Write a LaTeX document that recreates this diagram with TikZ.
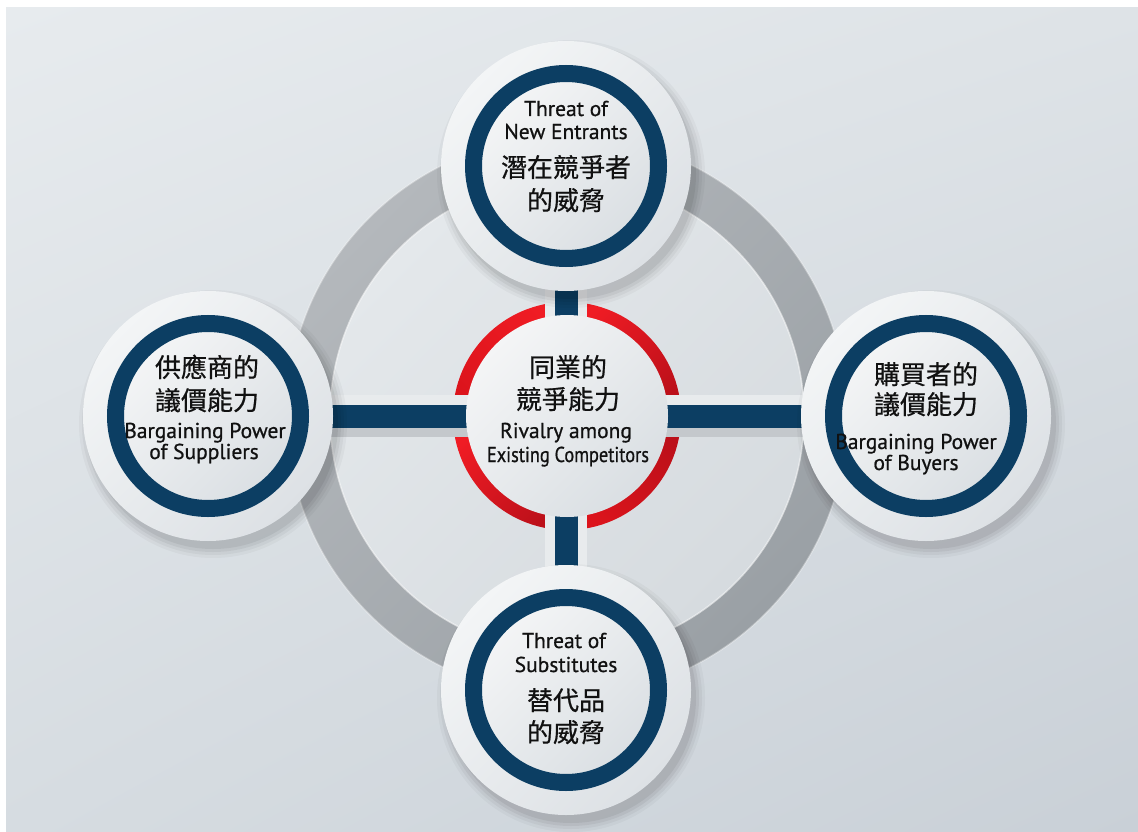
\documentclass[tikz,border=0pt]{standalone}
\usepackage{fontspec}
\usetikzlibrary{shadings}
\setmainfont{PT Sans}
\newfontfamily\enf[FakeBold=0.8]{PT Sans}
\newfontfamily\cjk[FakeBold=0.6]{Noto Sans CJK TC}
\definecolor{navy}{HTML}{0C3E63}
\definecolor{bgA}{HTML}{E7EBEE}
\definecolor{bgB}{HTML}{C9D0D7}
\definecolor{bgC}{HTML}{DEE3E7}
\definecolor{bgD}{HTML}{D6DCE1}
\definecolor{ringA}{HTML}{B4B8BC}
\definecolor{ringB}{HTML}{9AA0A5}
\definecolor{innerA}{HTML}{E4E8EB}
\definecolor{innerB}{HTML}{D6DBDF}
\definecolor{redA}{HTML}{F01C24}
\definecolor{redM}{HTML}{DC141C}
\definecolor{redB}{HTML}{BC101A}
\definecolor{discA}{HTML}{F4F5F6}
\definecolor{discB}{HTML}{DADFE3}
\definecolor{haloA}{HTML}{F3F5F6}
\definecolor{haloB}{HTML}{DDE1E5}
\definecolor{envA}{HTML}{E8EBED}
\definecolor{envB}{HTML}{C4C8CC}
\definecolor{txt}{HTML}{111111}
\begin{document}
\begin{tikzpicture}[x=1pt,y=-1pt,
  en/.style={font=\enf\fontsize{21.5}{21.5}\selectfont, text=txt, inner sep=0pt, anchor=base},
  zh/.style={font=\cjk\fontsize{26}{26}\selectfont, text=txt, inner sep=0pt, anchor=base},
  halo/.style={circle, minimum size=250pt, inner sep=0pt, top color=haloA, bottom color=haloB, shading angle=45},
  satring/.style={circle, minimum size=185pt, inner sep=0pt, draw=navy, line width=17pt, top color=discA, bottom color=discB, shading angle=45},
  centerdisc/.style={circle, minimum size=202pt, inner sep=0pt, top color=discA, bottom color=discB, shading angle=45},
  barenv/.style={draw=envA, line width=42pt},
  barlow/.style={draw=envB, line width=9pt},
  barcore/.style={draw=navy, line width=23pt}
]
\useasboundingbox (0,0) rectangle (1138,832);
\fill[white] (0,0) rectangle (1138,832);
\shade[upper left=bgA, upper right=bgC, lower left=bgD, lower right=bgB] (6,8) rectangle (1138,832);

\coordinate (cC) at (567,416);
\coordinate (cT) at (566,166);
\coordinate (cB) at (566,690);
\coordinate (cL) at (208,416);
\coordinate (cR) at (926,416);

% big ring
\shade[top color=innerA, bottom color=innerB, shading angle=45] (cC) circle[radius=237pt];
\shade[even odd rule, top color=ringA, bottom color=ringB, shading angle=45] (cC) circle[radius=280pt] (cC) circle[radius=237pt];
\draw[white, opacity=0.55, line width=1.5pt] (cC) circle[radius=237pt];
\draw[white, opacity=0.35, line width=1.5pt] (cC) circle[radius=280pt];

% red ring, four shaded quadrants
\shade[top color=redA, bottom color=redM, shading angle=-45] (cC) -- ([shift={(90:114pt)}]cC) arc[start angle=90, end angle=180, radius=114pt] -- cycle;
\shade[top color=redA, bottom color=redB, shading angle=45] (cC) -- ([shift={(0:114pt)}]cC) arc[start angle=0, end angle=90, radius=114pt] -- cycle;
\shade[top color=redM, bottom color=redB, shading angle=135] (cC) -- ([shift={(270:114pt)}]cC) arc[start angle=270, end angle=360, radius=114pt] -- cycle;
\shade[top color=redA, bottom color=redB, shading angle=45] (cC) -- ([shift={(180:114pt)}]cC) arc[start angle=180, end angle=270, radius=114pt] -- cycle;

% bars
\draw[barenv] (cL) -- (cR);
\draw[barlow, transform canvas={yshift=-16pt}] (cL) -- (cR);
\draw[barcore] (cL) -- (cR);
\draw[barenv] (cT) -- (cB);
\draw[barcore] (cT) -- (cB);

% centre disc
\node[centerdisc] (centre) at (cC) {};

% satellite shadows
\foreach \p in {cT,cL,cR,cB}{
  \foreach \d/\o in {9/0.03,6/0.04,3/0.05,0/0.06}{
    \fill[black, opacity=\o] ([shift={(5,8)}]\p) circle[radius=125pt+\d pt];
  }
}
% satellites
\node[halo] (hT) at (cT) {};
\node[halo] (hL) at (cL) {};
\node[halo] (hR) at (cR) {};
\node[halo] (hB) at (cB) {};
\node[satring] (sT) at (cT) {};
\node[satring] (sL) at (cL) {};
\node[satring] (sR) at (cR) {};
\node[satring] (sB) at (cB) {};

% texts
\node[en] (tT1) at (566,116) {Threat of};
\node[en] (tT2) at (566,139) {New Entrants};
\node[zh] (tT3) at (566,177) {潛在競爭者};
\node[zh] (tT4) at (566,210) {的威脅};

\node[zh] (tL1) at (207,377) {供應商的};
\node[zh] (tL2) at (207,410) {議價能力};
\node[en] (tL3) at (205,438) {Bargaining Power};
\node[en] (tL4) at (204,459) {of Suppliers};

\node[zh] (tR1) at (926,384) {購買者的};
\node[zh] (tR2) at (926,414) {議價能力};
\node[en] (tR3) at (916,449) {Bargaining Power};
\node[en] (tR4) at (916,470) {of Buyers};

\node[zh] (tC1) at (568,377) {同業的};
\node[zh] (tC2) at (568,409) {競爭能力};
\node[en] (tC3) at (566,438) {Rivalry among};
\node[en] (tC4) at (568,462) {\scalebox{0.85}[1]{Existing Competitors}};

\node[en] (tB1) at (564,648) {Threat of};
\node[en] (tB2) at (566,672) {Substitutes};
\node[zh] (tB3) at (566,710) {替代品};
\node[zh] (tB4) at (566,742) {的威脅};
\end{tikzpicture}
\end{document}
